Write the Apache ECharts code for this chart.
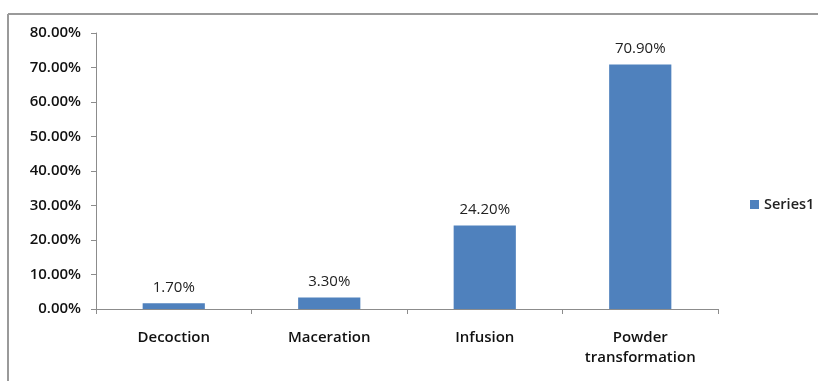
<!DOCTYPE html>
<html>
<head>
<meta charset="utf-8">
<script src="https://cdn.jsdelivr.net/npm/echarts@6/dist/echarts.min.js"></script>
<style>
  html, body { margin: 0; padding: 0; background: #fff; }
  #chart { width: 818px; height: 381px; }
</style>
</head>
<body>
<div id="chart"></div>
<script>
// Preparation methods and their share of use
const categories = ['Decoction', 'Maceration', 'Infusion', 'Powder\ntransformation'];
const seriesValues = [1.7, 3.3, 24.2, 70.9];
const seriesName = 'Series1';
const yTicks = { min: 0, max: 80, interval: 10 };

const FONT = '"Open Sans"';
const chart = echarts.init(document.getElementById('chart'));

chart.setOption({
  animation: false,
  backgroundColor: '#ffffff',
  graphic: [
    // chart area frame (top and left edges visible)
    { type: 'line', shape: { x1: 8, y1: 14, x2: 818, y2: 14 }, style: { stroke: '#9a9a9a', lineWidth: 2 } },
    { type: 'line', shape: { x1: 8, y1: 14, x2: 8, y2: 381 }, style: { stroke: '#9a9a9a', lineWidth: 2 } }
  ],
  grid: { left: 96, right: 100, top: 33, bottom: 72, containLabel: false },
  legend: {
    data: [seriesName],
    orient: 'vertical',
    left: 745,
    top: 192,
    itemWidth: 9,
    itemHeight: 9,
    icon: 'rect',
    itemGap: 4,
    textStyle: { fontFamily: FONT, fontSize: 14.5, fontWeight: 600, color: '#222' }
  },
  xAxis: {
    type: 'category',
    data: categories,
    axisLine: { lineStyle: { color: '#8c8c8c', width: 1 } },
    axisTick: { show: true, alignWithLabel: false, length: 5, lineStyle: { color: '#8c8c8c' } },
    axisLabel: { fontFamily: FONT, fontSize: 15, fontWeight: 600, color: '#111', margin: 19, lineHeight: 20, interval: 0 }
  },
  yAxis: {
    type: 'value',
    min: yTicks.min,
    max: yTicks.max,
    interval: yTicks.interval,
    axisLine: { show: true, lineStyle: { color: '#8c8c8c', width: 1 } },
    axisTick: { show: true, length: 5, lineStyle: { color: '#8c8c8c' } },
    splitLine: { show: false },
    axisLabel: {
      fontFamily: FONT, fontSize: 15, fontWeight: 600, color: '#111', margin: 15,
      formatter: v => v.toFixed(2) + '%'
    }
  },
  series: [{
    name: seriesName,
    type: 'bar',
    data: seriesValues,
    barWidth: '40%',
    itemStyle: { color: '#4f81bd' },
    label: {
      show: true,
      position: 'top',
      distance: 8,
      fontFamily: FONT,
      fontSize: 15,
      color: '#222',
      formatter: p => p.value.toFixed(2) + '%'
    }
  }]
});
</script>
</body>
</html>
